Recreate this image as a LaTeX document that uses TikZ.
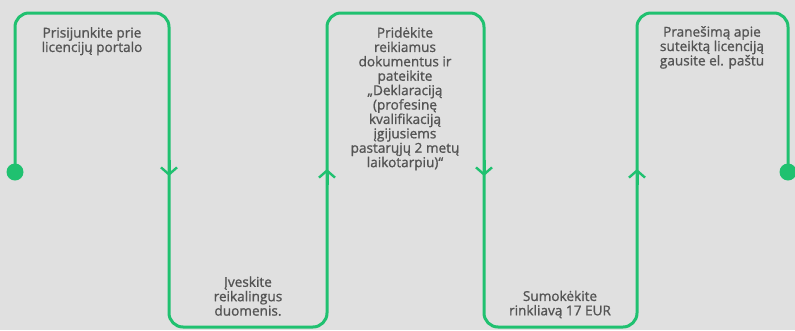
\documentclass[tikz,border=0pt]{standalone}
\usepackage{fontspec}
\newfontfamily\stepfont{Open Sans}[FakeBold=1.1]
\usetikzlibrary{arrows.meta}
\definecolor{bg}{HTML}{E0E0E0}
\definecolor{flowgreen}{HTML}{20C170}
\definecolor{txtgray}{HTML}{545454}
\tikzset{
  flow/.style={flowgreen, line width=3pt},
  tip/.style={flow, -{Straight Barb[length=7pt, width=16pt, line width=2.4pt]}},
  steptext/.style={txtgray, font=\stepfont\fontsize{13.6}{14.4}\selectfont, align=center, inner sep=0pt},
  dot/.style={circle, fill=flowgreen, minimum size=17pt, inner sep=0pt}
}
\begin{document}
\begin{tikzpicture}[x=1pt, y=-1pt]
    \fill[bg] (0, 0) rectangle (795, 330);
    \useasboundingbox (0, 0) rectangle (795, 330);

    \draw (15, 172) node[dot](dotL){}
       (788, 172) node[dot](dotR){};

    \coordinate (c1) at (15, 13);
    \coordinate (c2) at (169, 13);
    \coordinate (c3) at (169, 327);
    \coordinate (c4) at (327, 327);
    \coordinate (c5) at (327, 13);
    \coordinate (c6) at (484, 13);
    \coordinate (c7) at (484, 327);
    \coordinate (c8) at (637, 327);
    \coordinate (c9) at (637, 13);
    \coordinate (c10) at (788, 13);

    \draw[flow, rounded corners=14pt] (dotL.center) -- (c1) -- (c2) -- (c3) -- (c4) -- (c5)
       -- (c6) -- (c7) -- (c8) -- (c9) -- (c10) -- (dotR.center);

    % arrow heads on the uprights
    \draw[tip] (169, 160) -- (169, 176);
    \draw[tip] (327, 185) -- (327, 169);
    \draw[tip] (484, 160) -- (484, 176);
    \draw[tip] (637, 185) -- (637, 169);

    \draw (92, 27) node[steptext, anchor=north](s1){Prisijunkite prie\\licencijų portalo}
       (248, 316) node[steptext, anchor=south](s2){Įveskite\\reikalingus\\duomenis.}
       (405, 27) node[steptext, anchor=north](s3){Pridėkite\\reikiamus\\dokumentus ir\\pateikite\\„Deklaraciją\\(profesinę\\kvalifikaciją\\įgijusiems\\pastarųjų 2 metų\\laikotarpiu)“}
       (560, 318.5) node[steptext, anchor=south](s4){Sumokėkite\\rinkliavą 17 EUR}
       (712, 26) node[steptext, anchor=north](s5){Pranešimą apie\\suteiktą licenciją\\gausite el. paštu};
\end{tikzpicture}
\end{document}
